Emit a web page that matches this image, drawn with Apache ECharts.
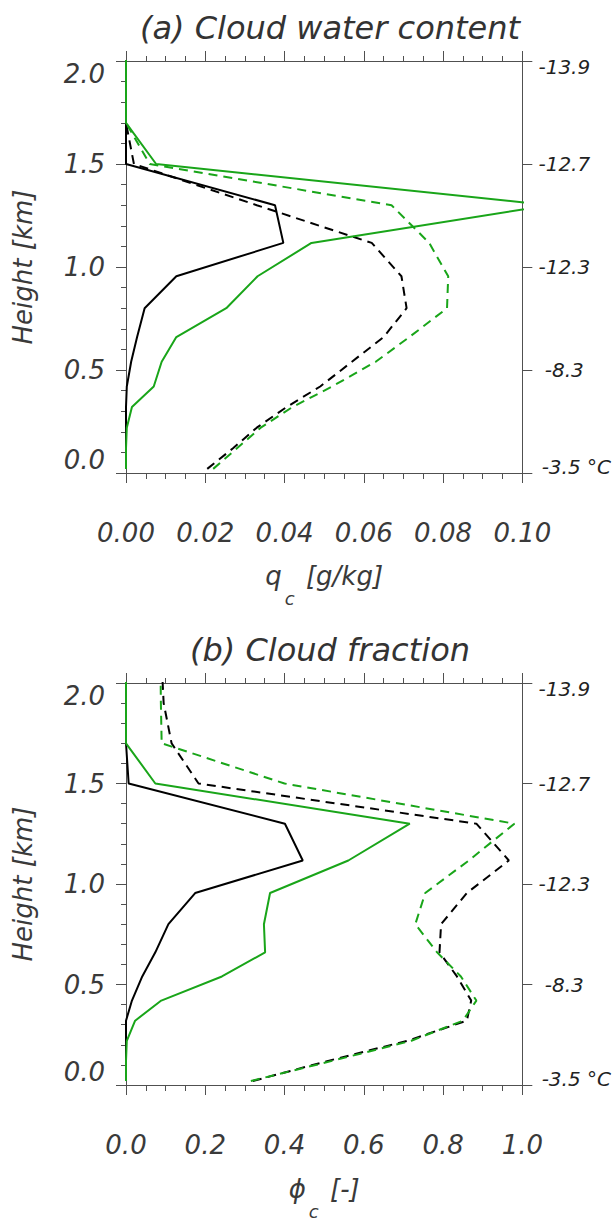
<!DOCTYPE html>
<html><head><meta charset="utf-8">
<script src="https://cdn.jsdelivr.net/npm/echarts@6/dist/echarts.min.js"></script>
<style>html,body{margin:0;padding:0;background:#fff}#c{width:614px;height:1221px}</style>
</head><body><div id="c"></div>
<script>
// Model levels (km)
const heights = [0.02,0.12,0.22,0.32,0.42,0.54,0.66,0.80,0.955,1.117,1.30,1.50,1.70,1.90,2.10];
// (a) cloud water content q_c [g/kg]
const qcBlackSolid  = [0,0,0,0,0.0002,0.0013,0.0028,0.0047,0.0127,0.0397,0.0376,0,0,0,0];
const qcGreenSolid  = [0,0,0.0002,0.0015,0.007,0.009,0.0127,0.0253,0.0332,0.0468,0.107,0.0076,0,0,0];
const qcBlackDashed = [0.0205,0.027,0.033,0.0405,0.049,0.057,0.065,0.0708,0.0695,0.062,0.033,0.002,0,0,0];
const qcGreenDashed = [0.022,0.028,0.034,0.042,0.052,0.063,0.0715,0.081,0.0813,0.0765,0.067,0.006,0,0,0];
// (b) cloud fraction phi_c [-]
const cfBlackSolid  = [0,0,0,0,0.015,0.041,0.074,0.107,0.1745,0.446,0.401,0.0067,0,0,0];
const cfGreenSolid  = [0,0,0.002,0.023,0.089,0.242,0.351,0.348,0.3635,0.561,0.716,0.074,0,0,0];
const cfBlackDashed = [0.32,0.51,0.71,0.86,0.871,0.835,0.791,0.795,0.86,0.966,0.884,0.183,0.115,0.095,0.09];
const cfGreenDashed = [0.315,0.52,0.72,0.85,0.884,0.845,0.785,0.73,0.755,0.865,0.98,0.40,0.09,0.088,0.087];
// Tick labels
const heightTicks = [0.0,0.5,1.0,1.5,2.0];
const tempLabels = ['-3.5','-8.3','-12.3','-12.7','-13.9'];
const qcTicks = ['0.00','0.02','0.04','0.06','0.08','0.10'];
const cfTicks = ['0.0','0.2','0.4','0.6','0.8','1.0'];

const FONT = 'DejaVu Sans';
const GREEN = '#19a519';
const AX = '#505050';
const TXT = '#3a3a3a';

function pairs(xs){ return xs.map((x,i)=>[x, heights[i]]); }

function leftLabel(v){
  const s = v.toFixed(1);
  if (Math.abs(v-2)<1e-9) return '{t|'+s+'}';
  if (Math.abs(v)<1e-9) return '{b|'+s+'}';
  return '{n|'+s+'}';
}
function rightLabel(v){
  const i = Math.round(v/0.5);
  const s = tempLabels[i];
  if (i===4) return '{vt|'+s+'}';
  if (i===0) return '{vb|'+s+'}{u| °C}';
  return '{vn|'+s+'}';
}
const labFont = {fontFamily:FONT, fontStyle:'italic', fontSize:26, color:TXT};
const rFont = {fontFamily:FONT, fontStyle:'italic', fontSize:20, color:'#222'};

function yAxes(gi){
  return [{
    gridIndex:gi, type:'value', min:0, max:2, interval:0.5, position:'left',
    name:'Height [km]', nameLocation:'middle', nameGap:90,
    nameTextStyle:{fontFamily:FONT, fontStyle:'italic', fontSize:26, color:TXT},
    axisLine:{show:true, onZero:false, lineStyle:{color:AX, width:1}},
    axisTick:{show:true, length:10, lineStyle:{color:AX}},
    minorTick:{show:true, splitNumber:5, length:5, lineStyle:{color:AX}},
    splitLine:{show:false},
    axisLabel:{margin:21, formatter:leftLabel, ...labFont,
      rich:{t:{...labFont, padding:[26,0,0,0]}, b:{...labFont, padding:[0,0,26,0]}, n:{...labFont}}}
  },{
    gridIndex:gi, type:'value', min:0, max:2, interval:0.5, position:'right',
    axisLine:{show:true, onZero:false, lineStyle:{color:AX, width:1}},
    axisTick:{show:true, length:10, lineStyle:{color:AX}},
    minorTick:{show:false}, splitLine:{show:false},
    axisLabel:{margin:42, align:'center', formatter:rightLabel, ...rFont,
      rich:{vt:{...rFont, padding:[12,0,0,0]},
            vb:{...rFont, padding:[0,0,12,24]},
            vn:{...rFont},
            u:{...rFont, padding:[0,0,12,0]}}}
  }];
}
function xAxes(gi, max, interval, ticks, name, rich, nameGap){
  return [{
    gridIndex:gi, type:'value', min:0, max:max, interval:interval, position:'bottom',
    name:name, nameLocation:'middle', nameGap:nameGap,
    nameTextStyle:{rich:rich},
    axisLine:{show:true, onZero:false, lineStyle:{color:AX, width:1}},
    axisTick:{show:true, length:10, lineStyle:{color:AX}},
    minorTick:{show:true, splitNumber:4, length:6, lineStyle:{color:AX}},
    splitLine:{show:false},
    axisLabel:{margin:47, ...labFont, formatter:(v)=>ticks[Math.round(v/interval)]}
  },{
    gridIndex:gi, type:'value', min:0, max:max, interval:interval, position:'top',
    axisLine:{show:true, onZero:false, lineStyle:{color:AX, width:1}},
    axisTick:{show:true, length:10, lineStyle:{color:AX}},
    minorTick:{show:true, splitNumber:4, length:5, lineStyle:{color:AX}},
    splitLine:{show:false}, axisLabel:{show:false}
  }];
}
const nameRich = {
  m:{fontFamily:FONT, fontStyle:'italic', fontSize:26, color:TXT},
  s:{fontFamily:FONT, fontStyle:'italic', fontSize:18, color:TXT, padding:[44,3,0,3]}
};

function ser(data, xi, yi, color, dashed){
  return {type:'line', xAxisIndex:xi, yAxisIndex:yi, data:pairs(data), showSymbol:false,
    symbol:'none', clip:true, animation:false,
    lineStyle:{color:color, width:2, type: dashed ? [9,6] : 'solid'}};
}

const chart = echarts.init(document.getElementById('c'), null, {renderer:'svg'});
chart.setOption({
  animation:false,
  backgroundColor:'#fff',
  title:[
    {text:'(a) Cloud water content', left:325, top:7, textAlign:'center',
     textStyle:{fontFamily:FONT, fontStyle:'italic', fontWeight:'normal', fontSize:32, color:'#333'}},
    {text:'(b) Cloud fraction', left:325, top:629, textAlign:'center',
     textStyle:{fontFamily:FONT, fontStyle:'italic', fontWeight:'normal', fontSize:32, color:'#333'}}
  ],
  grid:[
    {left:126, top:61, width:397, height:412},
    {left:126, top:683, width:397, height:413}
  ],
  xAxis:[
    ...xAxes(0, 0.1, 0.02, qcTicks, '{m|q}{s|c}{m| [g/kg]}', nameRich, 72),
    ...xAxes(1, 1.0, 0.2, cfTicks, '{m|ϕ}{s|c}{m| [-]}', nameRich, 73)
  ],
  yAxis:[...yAxes(0), ...yAxes(1)],
  series:[
    ser(qcBlackDashed,0,0,'#000',true),
    ser(qcGreenDashed,0,0,GREEN,true),
    ser(qcBlackSolid,0,0,'#000',false),
    ser(qcGreenSolid,0,0,GREEN,false),
    ser(cfBlackDashed,2,2,'#000',true),
    ser(cfGreenDashed,2,2,GREEN,true),
    ser(cfBlackSolid,2,2,'#000',false),
    ser(cfGreenSolid,2,2,GREEN,false)
  ]
});
</script></body></html>
